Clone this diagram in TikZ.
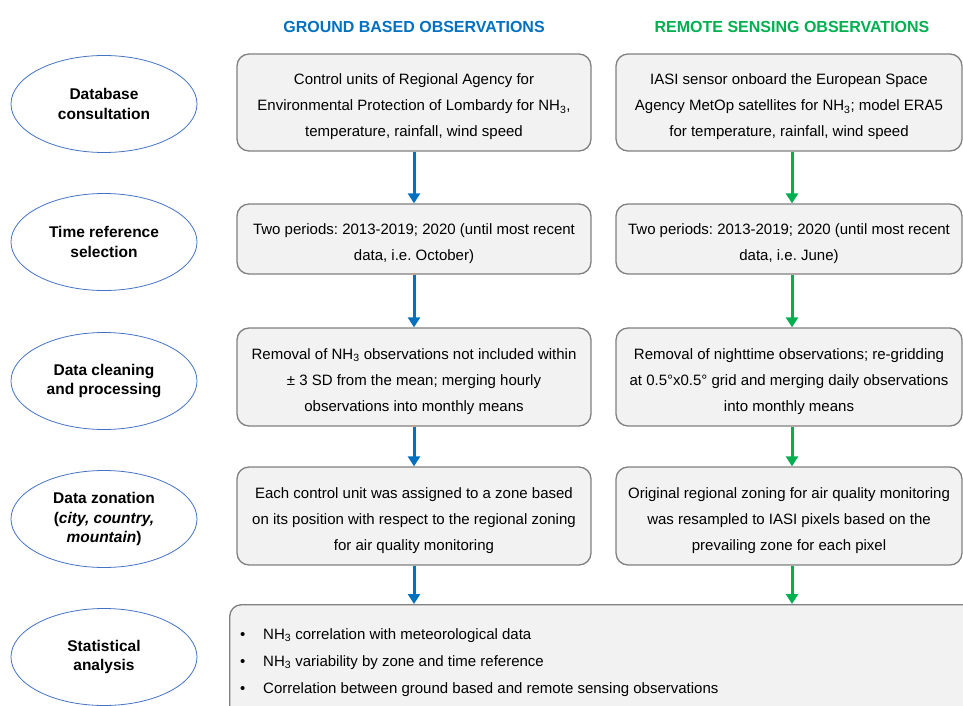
\documentclass[tikz,border=0pt]{standalone}
\usepackage{fontspec}
\setmainfont{Liberation Sans}
\usetikzlibrary{arrows.meta,shapes.geometric}
\definecolor{hblue}{RGB}{0,112,192}
\definecolor{hgreen}{RGB}{0,176,80}
\definecolor{boxfill}{RGB}{242,242,242}
\definecolor{boxdraw}{RGB}{128,128,128}
\definecolor{ellborder}{RGB}{68,114,196}
\newcommand{\nhthree}{NH\textsubscript{3}}
\newcommand{\topstrut}{\rule{0pt}{20pt}}
\frenchspacing
\begin{document}
\begin{tikzpicture}[x=1pt,y=-1pt,
  stage/.style={ellipse, draw=ellborder, line width=0.8pt, fill=white,
    minimum width=186pt, minimum height=97pt, inner sep=0pt, align=center,
    font=\fontsize{15.5}{19.5}\selectfont\bfseries},
  infobox/.style={rectangle, rounded corners=12pt, draw=boxdraw, line width=1.3pt,
    fill=boxfill, inner sep=0pt, align=center,
    font=\fontsize{15}{26}\selectfont\frenchspacing},
  leftbox/.style={infobox, minimum width=354pt},
  rightbox/.style={infobox, minimum width=346pt},
  header/.style={font=\fontsize{16}{19}\selectfont\bfseries, inner sep=0pt},
  bluearrow/.style={draw=hblue, line width=3pt, -{Triangle[width=12pt,length=10pt]}},
  greenarrow/.style={draw=hgreen, line width=3pt, -{Triangle[width=12pt,length=10pt]}},
  bullettext/.style={anchor=base west, inner sep=0pt, font=\fontsize{15}{27}\selectfont},
]
\useasboundingbox (0,0) rectangle (963,706);
\clip (0,0) rectangle (963,706);

% headers
\node[header, text=hblue] (hground) at (414,27) {GROUND BASED OBSERVATIONS};
\node[header, text=hgreen] (hremote) at (792,27) {REMOTE SENSING OBSERVATIONS};

% stages
\node[stage] (s1) at (104,104) {Database\\consultation};
\node[stage] (s2) at (104,242) {Time reference\\selection};
\node[stage] (s3) at (104,381) {Data cleaning\\and processing};
\node[stage] (s4) at (104,519) {Data zonation\\(\textit{city, country,}\\\textit{mountain})};
\node[stage] (s5) at (104,657) {Statistical\\analysis};

% ground based boxes
\node[leftbox, minimum height=97pt] (g1) at (414,102.5)
  {\topstrut Control units of Regional Agency for\\Environmental Protection of Lombardy for \nhthree,\\temperature, rainfall, wind speed};
\node[leftbox, minimum height=70pt] (g2) at (414,239)
  {\topstrut Two periods: 2013-2019; 2020 (until most recent\\data, i.e. October)};
\node[leftbox, minimum height=98pt] (g3) at (414,377)
  {\topstrut Removal of \nhthree{} observations not included within\\± 3 SD from the mean; merging hourly\\observations into monthly means};
\node[leftbox, minimum height=98pt] (g4) at (414,516)
  {\topstrut Each control unit was assigned to a zone based\\on its position with respect to the regional zoning\\for air quality monitoring};

% remote sensing boxes
\node[rightbox, minimum height=97pt] (r1) at (789,102.5)
  {\topstrut IASI sensor onboard the European Space\\Agency MetOp satellites for \nhthree; model ERA5\\for temperature, rainfall, wind speed};
\node[rightbox, minimum height=70pt] (r2) at (789,239)
  {\topstrut Two periods: 2013-2019; 2020 (until most recent\\data, i.e. June)};
\node[rightbox, minimum height=98pt] (r3) at (789,377)
  {\topstrut Removal of nighttime observations; re-gridding\\at 0.5°x0.5° grid and merging daily observations\\into monthly means};
\node[rightbox, minimum height=98pt] (r4) at (789,516)
  {\topstrut Original regional zoning for air quality monitoring\\was resampled to IASI pixels based on the\\prevailing zone for each pixel};

% statistical analysis box
\node[infobox, anchor=north west, minimum width=760pt, minimum height=130pt] (stat) at (229,604) {};
\node[bullettext] (b1) at (240,639) {\makebox[23pt][l]{•}\nhthree{} correlation with meteorological data};
\node[bullettext] (b2) at (240,666) {\makebox[23pt][l]{•}\nhthree{} variability by zone and time reference};
\node[bullettext] (b3) at (240,693) {\makebox[23pt][l]{•}Correlation between ground based and remote sensing observations};

% arrows
\draw[bluearrow] (g1.south) -- (g2.north);
\draw[bluearrow] (g2.south) -- (g3.north);
\draw[bluearrow] (g3.south) -- (g4.north);
\draw[bluearrow] (g4.south) -- (g4.south |- stat.north);
\draw[greenarrow] ([xshift=3pt]r1.south) -- ([xshift=3pt]r2.north);
\draw[greenarrow] ([xshift=3pt]r2.south) -- ([xshift=3pt]r3.north);
\draw[greenarrow] ([xshift=3pt]r3.south) -- ([xshift=3pt]r4.north);
\draw[greenarrow] ([xshift=3pt]r4.south) -- ([xshift=3pt]r4.south |- stat.north);
\end{tikzpicture}
\end{document}
